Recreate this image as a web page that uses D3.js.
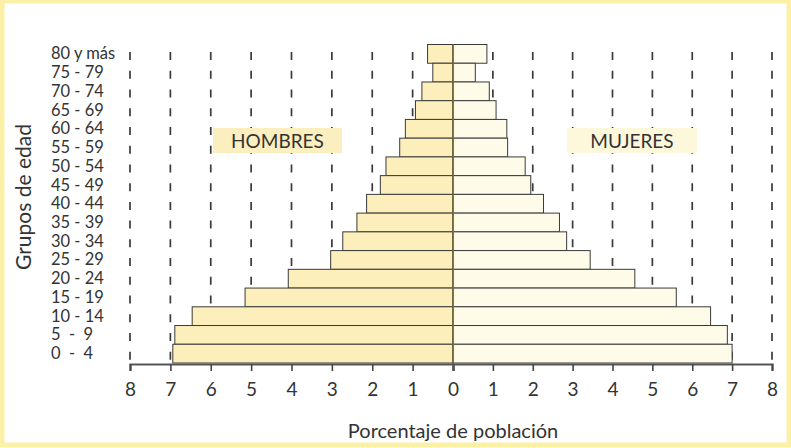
<!DOCTYPE html>
<html>
<head>
<meta charset="utf-8">
<script src="https://cdn.jsdelivr.net/npm/d3@7"></script>
<style>
    body { margin: 0; background: #fff; }
    svg text { font-family: Lato, "Open Sans", sans-serif; fill: #333; }
</style>
</head>
<body>
<svg id="piramide" width="791" height="448"></svg>
<script>
var ageGroups = ["80 y más", "75 - 79", "70 - 74", "65 - 69", "60 - 64", "55 - 59", "50 - 54", "45 - 49",
    "40 - 44", "35 - 39", "30 - 34", "25 - 29", "20 - 24", "15 - 19", "10 - 14", "5  -  9", "0  -  4"];
var hombres = [0.63, 0.5, 0.77, 0.93, 1.18, 1.32, 1.66, 1.8, 2.14, 2.38, 2.73, 3.03, 4.08, 5.15, 6.46, 6.89, 6.94];
var mujeres = [0.85, 0.56, 0.91, 1.08, 1.35, 1.37, 1.81, 1.95, 2.27, 2.67, 2.85, 3.44, 4.56, 5.6, 6.46, 6.88, 7.0];
var xTicks = [0, 1, 2, 3, 4, 5, 6, 7, 8];

(function () {
    'use strict';

    var vm = {};

    createSvg();
    setUpScales();
    drawGrid();
    drawBars();
    drawAxis();
    drawLabels();

    function createSvg() {
        vm.svg = d3.select("svg#piramide");
        vm.svg.append("rect")
            .attr("x", 2).attr("y", 1)
            .attr("width", 787).attr("height", 444)
            .attr("fill", "#fff")
            .attr("stroke", "#fcefa6")
            .attr("stroke-width", 5);
    }

    function setUpScales() {
        vm.xLeft = d3.scaleLinear().domain([0, 8]).range([453, 130]);
        vm.xRight = d3.scaleLinear().domain([0, 8]).range([453, 772]);
        vm.y = d3.scaleBand().domain(ageGroups).range([44.5, 363]).padding(0);
    }

    function drawGrid() {
        var step = vm.y.step();
        var grid = vm.svg.append("g").attr("class", "grid");
        var lines = [];
        xTicks.slice(1).forEach(function (t) {
            lines.push(vm.xLeft(t));
            lines.push(vm.xRight(t));
        });
        grid.selectAll("line")
            .data(lines)
            .enter().append("line")
            .attr("x1", function (d) { return d; })
            .attr("x2", function (d) { return d; })
            .attr("y1", vm.y.range()[0])
            .attr("y2", vm.y.range()[1])
            .attr("stroke", "#3a3a3a")
            .attr("stroke-width", 1.7)
            .attr("stroke-dasharray", "8," + (step - 8))
            .attr("stroke-dashoffset", step - 7.5);
    }

    function drawBars() {
        var bw = vm.y.bandwidth();

        vm.svg.append("g").selectAll("rect")
            .data(hombres)
            .enter().append("rect")
            .attr("x", function (d) { return vm.xLeft(d); })
            .attr("y", function (d, i) { return vm.y(ageGroups[i]); })
            .attr("width", function (d) { return vm.xLeft(0) - vm.xLeft(d); })
            .attr("height", bw)
            .attr("fill", "#fcefbb")
            .attr("stroke", "#3a3a3a")
            .attr("stroke-width", 1);

        vm.svg.append("g").selectAll("rect")
            .data(mujeres)
            .enter().append("rect")
            .attr("x", vm.xRight(0))
            .attr("y", function (d, i) { return vm.y(ageGroups[i]); })
            .attr("width", function (d) { return vm.xRight(d) - vm.xRight(0); })
            .attr("height", bw)
            .attr("fill", "#fefbe8")
            .attr("stroke", "#3a3a3a")
            .attr("stroke-width", 1);

        vm.svg.append("line")
            .attr("x1", vm.xLeft(0)).attr("x2", vm.xLeft(0))
            .attr("y1", vm.y(ageGroups[0])).attr("y2", vm.y.range()[1])
            .attr("stroke", "#7a6a30")
            .attr("stroke-width", 1.5);
    }

    function drawAxis() {
        var y0 = vm.y.range()[1] + 1;

        var axisLeft = vm.svg.append("g")
            .attr("transform", "translate(0," + y0 + ")")
            .call(d3.axisBottom(vm.xLeft).tickValues(xTicks).tickSize(7).tickPadding(12).tickFormat(d3.format("d")));
        var axisRight = vm.svg.append("g")
            .attr("transform", "translate(0," + y0 + ")")
            .call(d3.axisBottom(vm.xRight).tickValues(xTicks.slice(1)).tickSize(7).tickPadding(12).tickFormat(d3.format("d")));

        [axisLeft, axisRight].forEach(function (a) {
            a.select(".domain").attr("stroke", "#555").attr("stroke-width", 2.2);
            a.selectAll(".tick line").attr("stroke", "#444").attr("stroke-width", 1.6);
            a.selectAll(".tick text")
                .attr("font-size", 19)
                .style("font-family", "Lato, sans-serif")
                .attr("fill", "#333");
        });

        vm.svg.append("text")
            .attr("x", vm.xLeft(0))
            .attr("y", 438)
            .attr("text-anchor", "middle")
            .attr("font-size", 20)
            .text("Porcentaje de población");
    }

    function drawLabels() {
        vm.svg.append("g").selectAll("text")
            .data(ageGroups)
            .enter().append("text")
            .attr("x", 51)
            .attr("y", function (d) { return vm.y(d) + vm.y.bandwidth() / 2 + 5.5; })
            .attr("font-size", 16.5)
            .attr("xml:space", "preserve")
            .style("white-space", "pre")
            .text(function (d) { return d; });

        vm.svg.append("text")
            .attr("transform", "translate(31,197) rotate(-90)")
            .attr("text-anchor", "middle")
            .attr("font-size", 21)
            .text("Grupos de edad");

        var legend = [
            {text: "HOMBRES", x: 213, w: 129, fill: "#fcefbf"},
            {text: "MUJERES", x: 567, w: 130, fill: "#fdf8dc"}
        ];
        var lg = vm.svg.append("g").selectAll("g")
            .data(legend)
            .enter().append("g");
        lg.append("rect")
            .attr("x", function (d) { return d.x; })
            .attr("y", 128)
            .attr("width", function (d) { return d.w; })
            .attr("height", 25)
            .attr("fill", function (d) { return d.fill; });
        lg.append("text")
            .attr("x", function (d) { return d.x + d.w / 2; })
            .attr("y", 147.5)
            .attr("text-anchor", "middle")
            .attr("font-size", 19)
            .text(function (d) { return d.text; });
    }

})();
</script>
</body>
</html>
